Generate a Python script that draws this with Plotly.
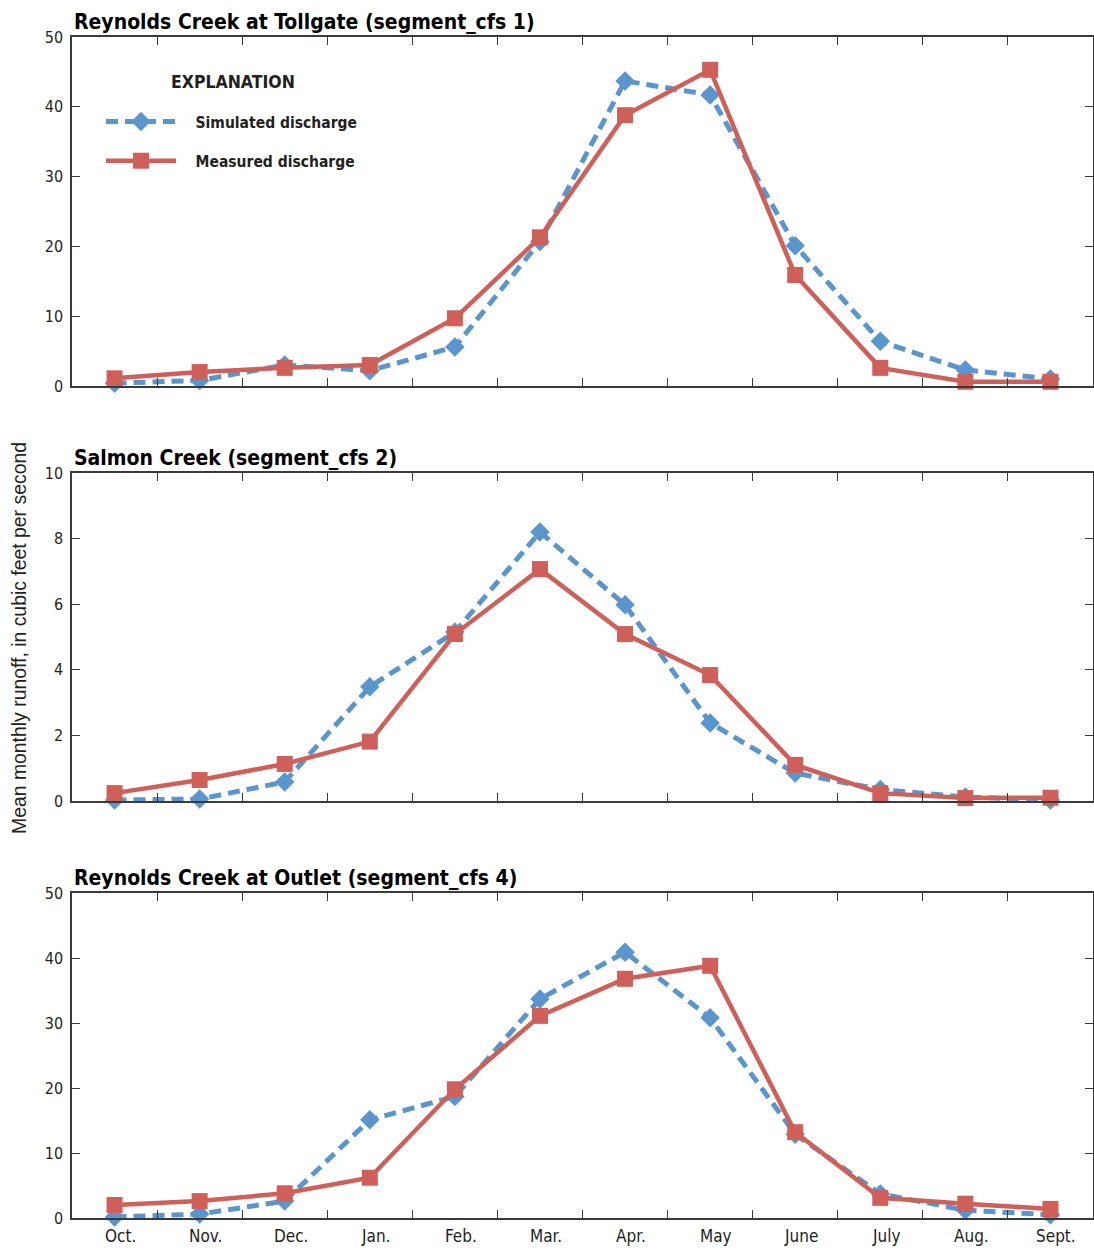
import plotly.graph_objects as go

# Monthly categories (water year order)
months = ["Oct.", "Nov.", "Dec.", "Jan.", "Feb.", "Mar.", "Apr.", "May", "June", "July", "Aug.", "Sept."]

# Reynolds Creek at Tollgate (segment_cfs 1)
tollgate_sim = [0.4, 0.8, 3.0, 2.2, 5.6, 20.7, 43.7, 41.7, 20.1, 6.4, 2.3, 1.0]
tollgate_meas = [1.1, 2.0, 2.6, 3.0, 9.7, 21.3, 38.8, 45.3, 15.9, 2.6, 0.6, 0.6]

# Salmon Creek (segment_cfs 2)
salmon_sim = [0.03, 0.06, 0.58, 3.48, 5.15, 8.2, 5.98, 2.38, 0.85, 0.35, 0.12, 0.03]
salmon_meas = [0.24, 0.64, 1.13, 1.81, 5.09, 7.07, 5.09, 3.84, 1.1, 0.24, 0.09, 0.1]

# Reynolds Creek at Outlet (segment_cfs 4)
outlet_sim = [0.15, 0.6, 2.6, 15.1, 18.7, 33.7, 40.9, 30.8, 12.9, 3.7, 1.2, 0.5]
outlet_meas = [2.0, 2.6, 3.8, 6.2, 19.8, 31.1, 36.8, 38.8, 13.2, 3.1, 2.2, 1.4]

panel_titles = [
    "Reynolds Creek at Tollgate (segment_cfs 1)",
    "Salmon Creek (segment_cfs 2)",
    "Reynolds Creek at Outlet (segment_cfs 4)",
]
y_ranges = [[0, 50], [0, 10], [0, 50]]
y_dticks = [10, 2, 10]
y_title = "Mean monthly runoff, in cubic feet per second"
legend_title = "EXPLANATION"

BLUE = "#5B95CD"
RED = "#CF5F59"
AXIS = "#3A3A3A"
TEXT = "#231F20"
NARROW = "DejaVu Sans Condensed, Liberation Sans Narrow, Arial Narrow, sans-serif"
REGULAR = "Liberation Sans, Arial, sans-serif"
PAD = "\u00a0\u00a0\u00a0"  # spacing between legend symbol and label

W, H = 1094, 1253
# vertical pixel extents of each panel (top, bottom)
panel_px = [(37, 386), (473, 801), (893, 1218)]
domains = [[1 - b / H, 1 - t / H] for t, b in panel_px]

x_idx = list(range(len(months)))
series = [
    (tollgate_sim, tollgate_meas),
    (salmon_sim, salmon_meas),
    (outlet_sim, outlet_meas),
]

fig = go.Figure()
for i, (sim, meas) in enumerate(series):
    n = "" if i == 0 else str(i + 1)
    fig.add_trace(go.Scatter(
        x=x_idx, y=sim, mode="lines+markers", name=PAD + "Simulated discharge",
        xaxis="x" + n, yaxis="y" + n,
        line=dict(color=BLUE, width=5, dash="12px,7px"),
        marker=dict(symbol="diamond", size=15, color=BLUE),
        cliponaxis=False, showlegend=(i == 0), legendgroup="sim",
    ))
    fig.add_trace(go.Scatter(
        x=x_idx, y=meas, mode="lines+markers", name=PAD + "Measured discharge",
        xaxis="x" + n, yaxis="y" + n,
        line=dict(color=RED, width=4.5),
        marker=dict(symbol="square", size=16, color=RED),
        cliponaxis=False, showlegend=(i == 0), legendgroup="meas",
    ))

axis_common = dict(
    showline=True, linecolor=AXIS, linewidth=1.5, mirror="ticks",
    ticks="inside", ticklen=8, tickwidth=1.3, tickcolor=AXIS,
    showgrid=False, zeroline=False, automargin=False,
)

layout = dict(
    width=W, height=H,
    margin=dict(l=72, r=1, t=0, b=0, autoexpand=False),
    paper_bgcolor="white", plot_bgcolor="white",
    font=dict(family=NARROW, color=TEXT, size=16),
    showlegend=True,
    legend=dict(
        x=(101 - 72) / 1021, y=1 - 105 / H, xanchor="left", yanchor="top",
        bgcolor="rgba(0,0,0,0)",
        font=dict(family=NARROW, size=15.5, weight="bold", color=TEXT),
        itemwidth=70, traceorder="grouped", tracegroupgap=16,
    ),
)

annotations = []
for i in range(3):
    n = "" if i == 0 else str(i + 1)
    layout["xaxis" + n] = dict(
        axis_common, domain=[0, 1], range=[-0.5, len(months) - 0.5],
        anchor="y" + n, tickvals=[k + 0.5 for k in range(len(months) - 1)],
        showticklabels=False,
    )
    layout["yaxis" + n] = dict(
        axis_common, domain=domains[i], range=y_ranges[i], dtick=y_dticks[i],
        anchor="x" + n, tickfont=dict(family=NARROW, size=16, color=TEXT),
        ticklabelstandoff=4,
    )
    annotations.append(dict(
        text=panel_titles[i], xref="paper", yref="paper",
        x=0, y=domains[i][1], xanchor="left", yanchor="bottom", yshift=1,
        showarrow=False, font=dict(family=NARROW, size=21, weight="bold", color="#000"),
    ))

# legend heading
annotations.append(dict(
    text=legend_title, xref="paper", yref="paper",
    x=(233 - 72) / 1021, y=1 - 82 / H, xanchor="center", yanchor="middle",
    showarrow=False, font=dict(family=NARROW, size=17.5, weight="bold", color=TEXT),
))

# month labels under the bottom panel
for k, m in enumerate(months):
    annotations.append(dict(
        text=m, xref="x3", yref="paper", x=k, y=domains[2][0],
        xanchor="center", yanchor="top", yshift=-6, xshift=6,
        showarrow=False, font=dict(family=NARROW, size=17, color=TEXT),
    ))

annotations.append(dict(
    text=y_title, xref="paper", yref="paper", x=0, y=1 - 638 / H,
    xanchor="center", yanchor="middle", xshift=-53, textangle=-90,
    showarrow=False, font=dict(family=REGULAR, size=19.4, color=TEXT),
))
layout["annotations"] = annotations

fig.update_layout(**layout)
fig.write_html("out.html")
